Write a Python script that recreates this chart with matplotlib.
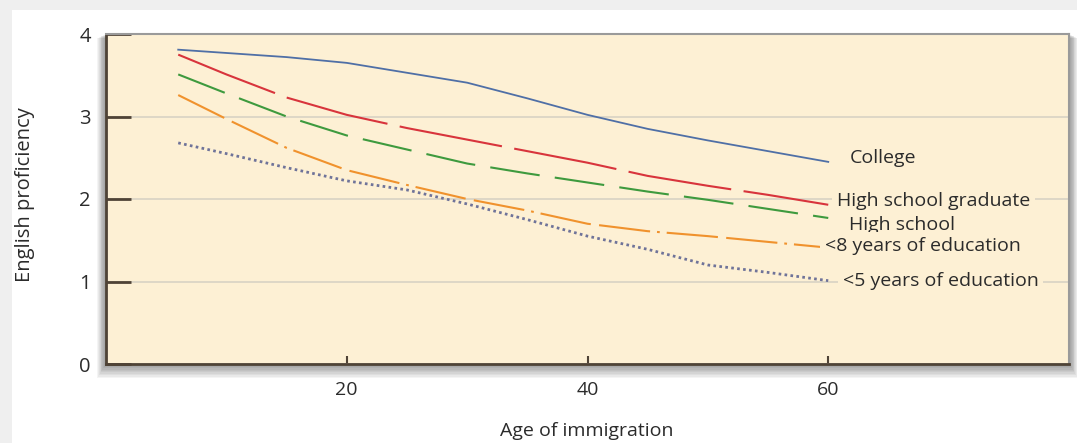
import matplotlib
matplotlib.use("Agg")
from matplotlib import pyplot as plt
from matplotlib.patches import Rectangle

plt.rcParams['font.family'] = ['Open Sans', 'DejaVu Sans']
plt.rcParams['lines.scale_dashes'] = False

# data
ages = [6, 10, 15, 20, 25, 30, 35, 40, 45, 50, 55, 60]
college = [3.81, 3.77, 3.72, 3.65, 3.53, 3.41, 3.22, 3.02, 2.85, 2.71, 2.58, 2.45]
hs_graduate = [3.75, 3.51, 3.23, 3.02, 2.86, 2.72, 2.58, 2.44, 2.28, 2.16, 2.05, 1.93]
high_school = [3.51, 3.28, 3.00, 2.77, 2.60, 2.43, 2.31, 2.20, 2.09, 1.99, 1.88, 1.77]
under_8 = [3.26, 2.97, 2.62, 2.35, 2.17, 2.00, 1.86, 1.70, 1.61, 1.55, 1.48, 1.41]
under_5 = [2.68, 2.55, 2.38, 2.22, 2.11, 1.94, 1.75, 1.55, 1.39, 1.20, 1.11, 1.01]

labels = ['College', 'High school graduate', 'High school',
          '<8 years of education', '<5 years of education']
label_pos = [(61.8, 2.50), (60.7, 1.98), (61.7, 1.68), (59.7, 1.43), (61.2, 1.00)]

x_ticks = [20, 40, 60]
y_ticks = [0, 1, 2, 3, 4]

face = '#fdf0d4'
brown = '#4f4336'
ink = '#2b2b2b'

W, H = 1077, 443
fig = plt.figure(figsize=(W / 100, H / 100), dpi=100, facecolor='white')

# light grey frame on top and left
fig.patches.append(Rectangle((0, 1 - 10 / H), 1, 10 / H, transform=fig.transFigure,
                             facecolor='#efefef', edgecolor='none', zorder=0))
fig.patches.append(Rectangle((0, 0), 12 / W, 1, transform=fig.transFigure,
                             facecolor='#efefef', edgecolor='none', zorder=0))

left, right, bottom, top = 106 / W, 1069 / W, (H - 364) / H, (H - 34) / H

# soft drop shadow behind the plot box
for i in range(10, 0, -1):
    fig.patches.append(Rectangle((left - i * 0.9 / W, bottom - i * 1.4 / H),
                                 right - left + i * 1.8 / W, top - bottom + i * 1.0 / H,
                                 transform=fig.transFigure, facecolor='#000000',
                                 edgecolor='none', alpha=0.045, zorder=1))

ax = fig.add_axes([left, bottom, right - left, top - bottom], zorder=2)
ax.set_facecolor(face)

ax.plot(ages, college, color='#4f6fa6', lw=1.3)
ax.plot(ages, hs_graduate, color='#d8343c', lw=1.5, dashes=(75, 9))
ax.plot(ages, high_school, color='#3e9a3e', lw=1.5, dashes=(36, 11))
ax.plot(ages, under_8, color='#f0922d', lw=1.5,
        dashes=(37, 6, 37, 5, 2, 5))
ax.plot(ages, under_5, color='#6f7399', lw=2.0, dashes=(1.9, 2.4),
        dash_capstyle='butt')

for text, (lx, ly) in zip(labels, label_pos):
    ax.text(lx, ly, text, fontsize=14, color=ink, va='center', ha='left',
            bbox=dict(boxstyle='square,pad=0.25', facecolor=face, edgecolor='none'),
            zorder=4)

ax.set_xlim(0, 80)
ax.set_ylim(0, 4)
ax.set_xticks(x_ticks)
ax.set_yticks(y_ticks)
ax.grid(axis='y', color='#d8d2c4', lw=1.2)
ax.set_axisbelow(True)

ax.tick_params(axis='y', direction='in', length=18, width=2, color=brown,
               pad=11, labelsize=14.5, labelcolor=ink)
ax.tick_params(axis='x', direction='in', length=6, width=1.5, color=brown,
               pad=12, labelsize=14, labelcolor=ink)
for side in ['left', 'bottom']:
    ax.spines[side].set_color(brown)
    ax.spines[side].set_linewidth(2)
for side in ['top', 'right']:
    ax.spines[side].set_color('#9a9a9a')
    ax.spines[side].set_linewidth(1.5)

fig.text(25 / W, (H - 195) / H, 'English proficiency', rotation=90, fontsize=14.5,
         color=ink, ha='center', va='center')
fig.text(587 / W, (H - 431) / H, 'Age of immigration', fontsize=14,
         color=ink, ha='center', va='center')

fig.savefig('out.png', dpi=100, facecolor='white')
